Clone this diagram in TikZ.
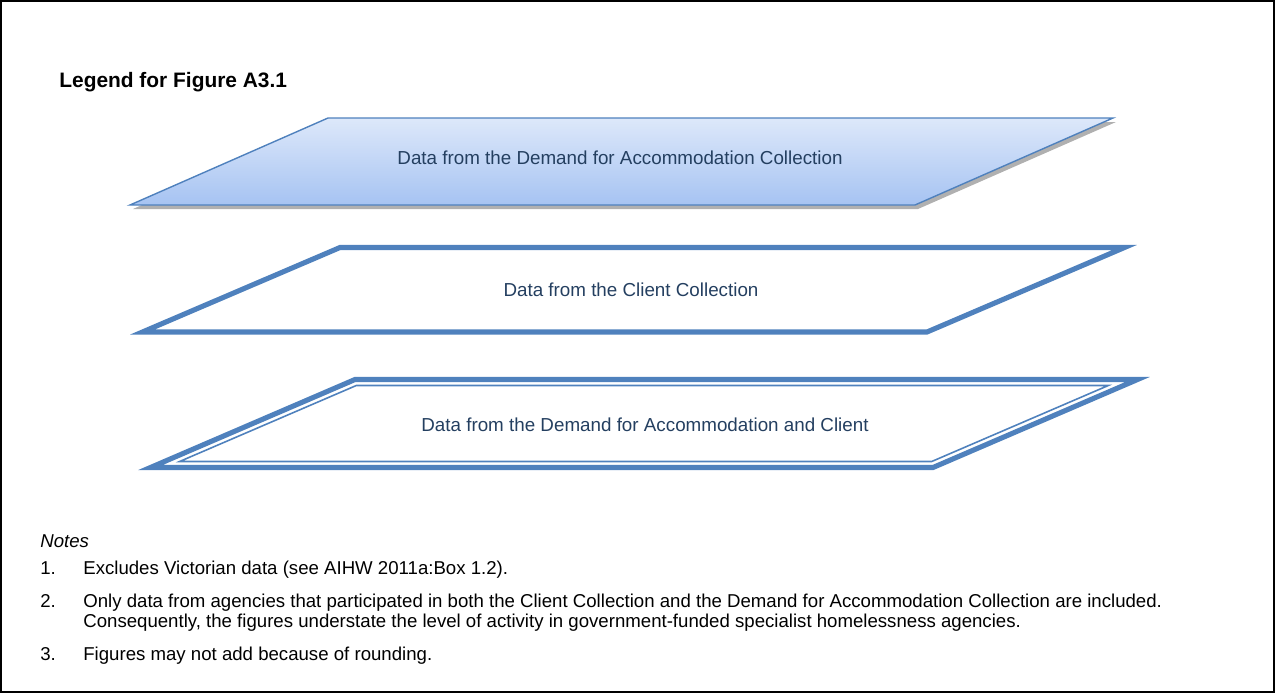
\documentclass[tikz,border=0pt]{standalone}
\usepackage{fontspec}
\setmainfont{Liberation Sans}
\usetikzlibrary{positioning}
\definecolor{legblue}{HTML}{4F81BD}
\definecolor{labtext}{HTML}{243F60}
\definecolor{gradtop}{HTML}{DDE8FA}
\definecolor{gradbot}{HTML}{A6C3F2}
\definecolor{shadowgray}{HTML}{9C9C9C}

\begin{document}
\begin{tikzpicture}[x=0.02cm, y=-0.02cm,
    label/.style={text=labtext, font=\fontsize{10.7}{13}\selectfont},
    note/.style={anchor=base west, inner sep=0pt, font=\fontsize{10.6}{13}\selectfont}]
    \useasboundingbox (0,0) rectangle (1275,693);
    \draw[line width=0.9pt] (1,1) rectangle (1274,692);
    \node[anchor=base west, inner sep=0pt, font=\bfseries\fontsize{11.9}{14}\selectfont] (title) at (59,87) {Legend for Figure A3.1};

    % demand for accommodation
    \fill[shadowgray, opacity=0.8] (331,122) -- (1116,122) -- (918,209) -- (133,209) -- cycle;
    \shade[top color=gradtop, bottom color=gradbot, draw=legblue, line width=0.8pt] (328,118) -- (1113,118) -- (915,205) -- (130,205) -- cycle;
    \node[label] (demand) at (620,158) {Data from the Demand for Accommodation Collection};

    % client
    \draw[legblue, line width=2.9pt] (340,247.5) -- (1124.5,247.5) -- (927,332) -- (142.5,332) -- cycle;
    \node[label] (client) at (631,290) {Data from the Client Collection};

    % both
    \draw[legblue, line width=2.9pt] (355,379.5) -- (1137.5,379.5) -- (933,467.5) -- (150.5,467.5) -- cycle;
    \draw[legblue, line width=0.9pt] (356.3,385.5) -- (1108.3,385.5) -- (931.7,461.5) -- (179.6,461.5) -- cycle;
    \node[label] (both) at (645,425) {Data from the Demand for Accommodation and Client};

    % notes
    \node[note, font=\itshape\fontsize{10.6}{13}\selectfont] (notes) at (40,547) {Notes};
    \node[note] (n1) at (40,574) {1.};
    \node[note] (t1) at (83,574) {Excludes Victorian data (see AIHW 2011a:Box 1.2).};
    \node[note] (n2) at (40,607) {2.};
    \node[note] (t2) at (83,607) {Only data from agencies that participated in both the Client Collection and the Demand for Accommodation Collection are included.};
    \node[note] (t2b) at (83,627) {Consequently, the figures understate the level of activity in government-funded specialist homelessness agencies.};
    \node[note] (n3) at (40,660) {3.};
    \node[note] (t3) at (83,660) {Figures may not add because of rounding.};
\end{tikzpicture}
\end{document}
